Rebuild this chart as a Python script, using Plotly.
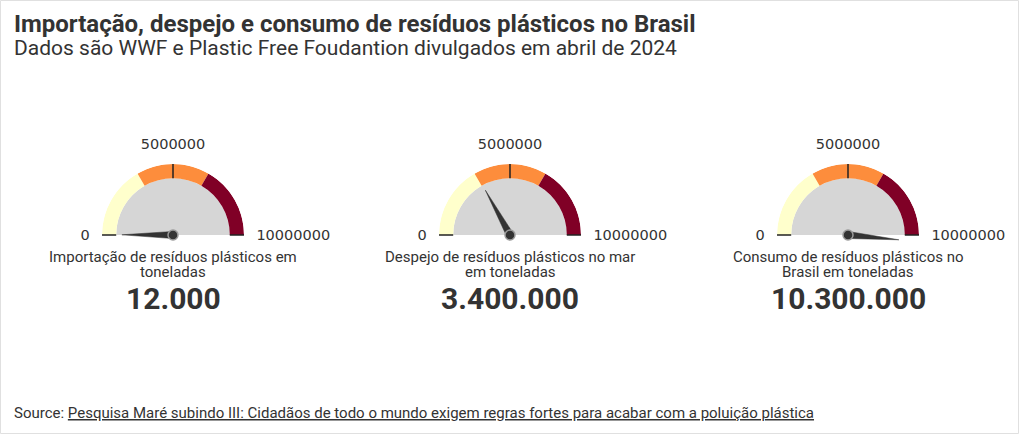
import plotly.graph_objects as go

# ---- data ----
labels = [["Importação de resíduos plásticos em", "toneladas"],
          ["Despejo de resíduos plásticos no mar", "em toneladas"],
          ["Consumo de resíduos plásticos no", "Brasil em toneladas"]]
values = [12000, 3400000, 10300000]
gauge_max = 10000000
tick_values = [0, 5000000, 10000000]
tick_labels = ["0", "5000000", "10000000"]
band_edges = [0, 3333333, 6666667, 10000000]
band_colors = ["#ffffcc", "#fd8d3c", "#800026"]

W, H = 1020, 435
FONT = "Roboto"
centers_x = [173, 510, 848]
center_y = 235
R = 71
inner = 0.80

def to_theta(v):
    return 180.0 * (1 - v / gauge_max)

fig = go.Figure()
for i, (lab, val) in enumerate(zip(labels, values)):
    pid = "polar" if i == 0 else f"polar{i+1}"
    sub = pid
    # gray disk
    fig.add_trace(go.Barpolar(r=[inner], theta=[90], width=[180], base=0,
                              marker=dict(color="#d6d6d6", line=dict(width=0)),
                              subplot=sub, hoverinfo="skip", showlegend=False))
    # bands
    for j, col in enumerate(band_colors):
        a, b = to_theta(band_edges[j]), to_theta(band_edges[j + 1])
        fig.add_trace(go.Barpolar(r=[1 - inner], theta=[(a + b) / 2], width=[abs(a - b)],
                                  base=inner, marker=dict(color=col, line=dict(width=0)),
                                  subplot=sub, hoverinfo="skip", showlegend=False))
    # tick marks across the band
    for t in tick_values:
        fig.add_trace(go.Scatterpolar(r=[inner, 1], theta=[to_theta(t)] * 2, mode="lines",
                                      line=dict(color="#222222", width=1.5), cliponaxis=False,
                                      subplot=sub, hoverinfo="skip", showlegend=False))
    # needle
    th = to_theta(val)
    fig.add_trace(go.Scatterpolar(r=[0.72, 0.05, 0.05, 0.72], theta=[th, th + 90, th - 90, th],
                                  mode="lines", fill="toself", fillcolor="#333333",
                                  line=dict(color="#333333", width=0.5), cliponaxis=False,
                                  subplot=sub, hoverinfo="skip", showlegend=False))
    fig.add_trace(go.Scatterpolar(r=[0], theta=[0], mode="markers", cliponaxis=False,
                                  marker=dict(size=10, color="#333333", line=dict(color="#9a9a9a", width=1.5)),
                                  subplot=sub, hoverinfo="skip", showlegend=False))
    cx = centers_x[i]
    fig.update_layout(**{pid: dict(
        domain=dict(x=[(cx - R) / W, (cx + R) / W], y=[1 - (center_y + R) / H, 1 - (center_y - R) / H]),
        sector=[0, 360], bgcolor="rgba(0,0,0,0)", hole=0,
        radialaxis=dict(range=[0, 1], visible=False, showgrid=False),
        angularaxis=dict(rotation=0, direction="counterclockwise", showgrid=False, showline=False,
                         tickvals=[to_theta(t) for t in tick_values], ticktext=tick_labels,
                         ticks="outside", ticklen=9, tickcolor="rgba(0,0,0,0)",
                         tickfont=dict(family="DejaVu Sans", size=14.5, color="#333333")),
    )})
    for k, line in enumerate(lab):
        fig.add_annotation(x=cx / W, y=1 - (257 + 15 * k) / H, xref="paper", yref="paper", text=line,
                           showarrow=False, xanchor="center", yanchor="middle",
                           font=dict(family=FONT, size=15, color="#333333"))
    fig.add_annotation(x=cx / W, y=1 - 298 / H, xref="paper", yref="paper",
                       text=f"<b>{val:,}</b>".replace(",", "."),
                       showarrow=False, xanchor="center", yanchor="middle",
                       font=dict(family=FONT, size=30, color="#333333"))

fig.add_annotation(x=12 / W, y=1 - 24 / H, xref="paper", yref="paper",
                   text="<b>Importação, despejo e consumo de resíduos plásticos no Brasil</b>",
                   showarrow=False, xanchor="left", yanchor="middle",
                   font=dict(family=FONT, size=24, color="#333333"))
fig.add_annotation(x=12 / W, y=1 - 48 / H, xref="paper", yref="paper",
                   text="Dados são WWF e Plastic Free Foudantion divulgados em abril de 2024",
                   showarrow=False, xanchor="left", yanchor="middle",
                   font=dict(family=FONT, size=21, color="#333333"))
fig.add_annotation(x=12 / W, y=1 - 413 / H, xref="paper", yref="paper",
                   text="Source: <u>Pesquisa Maré subindo III: Cidadãos de todo o mundo exigem regras fortes para acabar com a poluição plástica</u>",
                   showarrow=False, xanchor="left", yanchor="middle",
                   font=dict(family=FONT, size=15, color="#333333"))
fig.add_shape(type="rect", xref="paper", yref="paper", x0=0.5 / W, x1=1 - 1.5 / W, y0=1.5 / H, y1=1 - 0.5 / H,
              line=dict(color="#e0e0e0", width=1))

fig.update_layout(width=W, height=H, margin=dict(l=0, r=0, t=0, b=0),
                  paper_bgcolor="white", plot_bgcolor="white", showlegend=False)
fig.write_html("out.html")
